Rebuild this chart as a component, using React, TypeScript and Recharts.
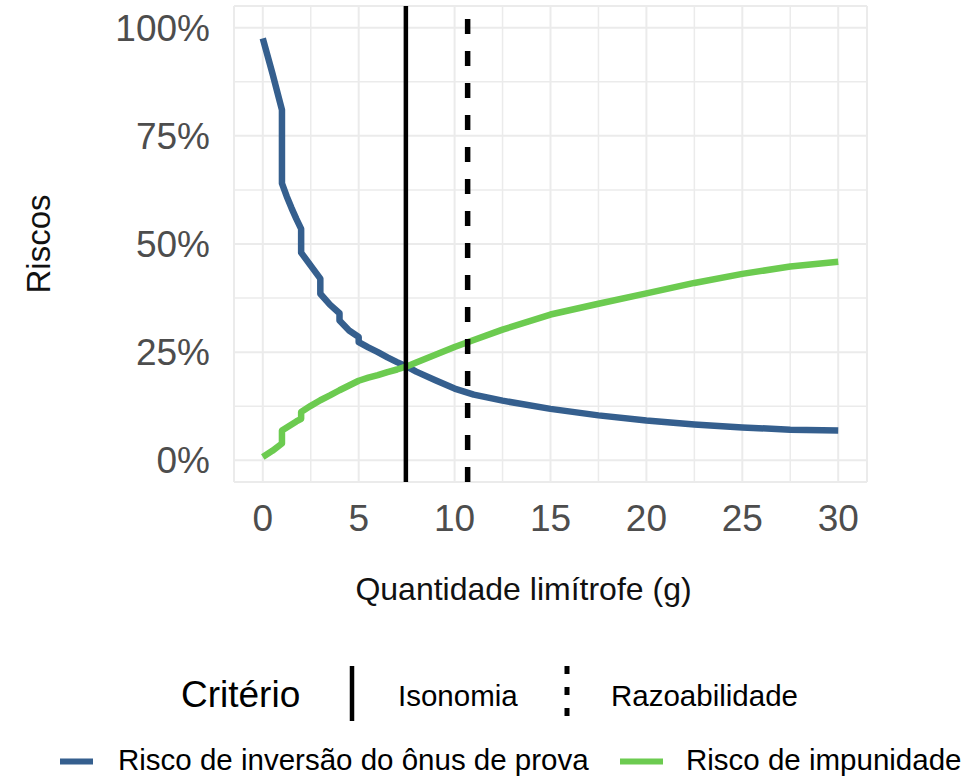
import React from 'react';
import { LineChart, Line, XAxis, YAxis, CartesianGrid, ReferenceLine } from 'recharts';

// quantidade limítrofe (g) – repeated values mark the steps of the curves
const quantidades = [0, 0.5, 1, 1, 1.25, 1.5, 1.75, 2, 2, 2.5, 3, 3, 3.5, 4, 4, 4.5, 5, 5, 5.5, 6, 6.5, 7, 7.5, 8, 9, 10, 11, 12.5, 15, 17.5, 20, 22.5, 25, 27.5, 30];
const riscoInversao = [97.5, 89.5, 81, 64, 61, 58.3, 55.8, 53.5, 48, 45, 42, 38.5, 36, 34, 32.3, 30, 28.5, 27.3, 26.1, 25.0, 23.8, 22.7, 21.7, 20.5, 18.5, 16.6, 15.2, 13.8, 11.9, 10.4, 9.2, 8.3, 7.6, 7.1, 6.9];
const riscoImpunidade = [0.8, 2.2, 3.9, 6.9, 7.6, 8.3, 9.0, 9.6, 11.2, 12.6, 13.9, 13.9, 15.0, 16.2, 16.2, 17.3, 18.4, 18.4, 19.1, 19.7, 20.4, 21.0, 21.7, 22.6, 24.4, 26.2, 27.8, 30.2, 33.7, 36.2, 38.6, 41.0, 43.1, 44.8, 45.9];

const seriesNomes = ['Risco de inversão do ônus de prova', 'Risco de impunidade'];
const criterioNomes = ['Isonomia', 'Razoabilidade'];
const criterioLimites = [7.46, 10.68];

const xTicks = [0, 5, 10, 15, 20, 25, 30];
const xMinor = [2.5, 7.5, 12.5, 17.5, 22.5, 27.5];
const yTicks = [0, 25, 50, 75, 100];
const yMinor = [12.5, 37.5, 62.5, 87.5];

const BLUE = '#355f8e';
const GREEN = '#6ccb50';
const GRID = '#ebebeb';
const FONT = '"Liberation Sans", Arial, Helvetica, sans-serif';

const data = quantidades.map((x, i) => ({
  x,
  inversao: riscoInversao[i],
  impunidade: riscoImpunidade[i],
}));

const App: React.FC = () => {
  return (
    <div style={{ position: 'fixed', left: 0, top: 0, width: 973, height: 779, background: '#fff', fontFamily: FONT, overflow: 'hidden' }}>
      <LineChart
        width={973}
        height={779}
        data={data}
        margin={{ top: 6, right: 106, left: 0, bottom: 84 }}
        style={{ fontFamily: FONT }}
      >
        <CartesianGrid stroke={GRID} strokeWidth={2} />
        {xMinor.map(v => (
          <ReferenceLine key={`xm-${v}`} x={v} stroke={GRID} strokeWidth={1.5} />
        ))}
        {yMinor.map(v => (
          <ReferenceLine key={`ym-${v}`} y={v} stroke={GRID} strokeWidth={1.5} />
        ))}
        <XAxis
          dataKey="x"
          type="number"
          domain={[-1.5, 31.5]}
          ticks={xTicks}
          axisLine={false}
          tickLine={false}
          tickSize={6}
          tickMargin={17}
          height={213}
          tick={{ fontSize: 37, fill: '#4d4d4d' }}
          label={{ value: 'Quantidade limítrofe (g)', position: 'center', dx: -27, fontSize: 32, fill: '#111' }}
        />
        <YAxis
          type="number"
          domain={[-5, 105]}
          ticks={yTicks}
          axisLine={false}
          tickLine={false}
          tickSize={6}
          tickMargin={18}
          width={234}
          tickFormatter={(v: number) => `${v}%`}
          tick={{ fontSize: 37, fill: '#4d4d4d' }}
          label={{ value: 'Riscos', angle: -90, position: 'center', dx: -79, fontSize: 33, fill: '#111' }}
        />
        <Line
          dataKey="inversao"
          name={seriesNomes[0]}
          stroke={BLUE}
          strokeWidth={6.5}
          dot={false}
          strokeLinejoin="round"
          isAnimationActive={false}
        />
        <Line
          dataKey="impunidade"
          name={seriesNomes[1]}
          stroke={GREEN}
          strokeWidth={6.5}
          dot={false}
          strokeLinejoin="round"
          isAnimationActive={false}
        />
        <ReferenceLine x={criterioLimites[0]} stroke="#000" strokeWidth={4.5} />
        <ReferenceLine x={criterioLimites[1]} stroke="#000" strokeWidth={5.5} strokeDasharray="15 17" />
      </LineChart>

      {/* legends */}
      <svg width={973} height={779} style={{ position: 'absolute', left: 0, top: 0, pointerEvents: 'none' }}>
        <text x={181} y={707} fontSize={37} fill="#000">Critério</text>
        <line x1={352} x2={352} y1={666} y2={721} stroke="#000" strokeWidth={4.5} />
        <text x={398} y={706} fontSize={29.5} fill="#000">{criterioNomes[0]}</text>
        <line x1={567} x2={567} y1={666} y2={722} stroke="#000" strokeWidth={5} strokeDasharray="8 13" />
        <text x={611} y={706} fontSize={29.5} fill="#000">{criterioNomes[1]}</text>

        <line x1={60} x2={93} y1={761.5} y2={761.5} stroke={BLUE} strokeWidth={6} />
        <text x={118} y={770} fontSize={29.5} fill="#000">{seriesNomes[0]}</text>
        <line x1={620} x2={663} y1={761.5} y2={761.5} stroke={GREEN} strokeWidth={6} />
        <text x={686} y={770} fontSize={29.5} fill="#000">{seriesNomes[1]}</text>
      </svg>
    </div>
  );
};

export default App;
